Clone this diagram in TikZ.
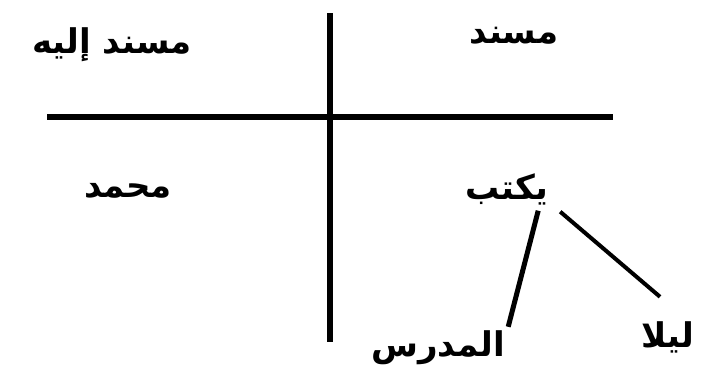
\documentclass[tikz,border=0pt]{standalone}
\usepackage{fontspec}
\usetikzlibrary{calc}
\newfontfamily\arabicfont[Script=Arabic]{DejaVu Sans}
\TeXXeTstate=1
\begin{document}
\begin{tikzpicture}[x=1pt,y=-1pt,
  lbl/.style={font=\arabicfont\bfseries\fontsize{34}{38}\selectfont, inner sep=0pt, text=black},
  axis/.style={line width=6pt, black},
  link/.style={line width=4pt, black}]
\useasboundingbox (0,0) rectangle (706,367);
% frame lines
\coordinate (vtop) at (330,13);
\coordinate (vbot) at (330,342);
\coordinate (hl) at (47,117);
\coordinate (hr) at (613,117);
\draw[axis] (vtop) -- (vbot);
\draw[axis] (hl) -- (hr);
% labels
\node[lbl, minimum width=130, minimum height=35] (mi) at (112,45) {\beginR مسند إليه\endR};
\node[lbl, minimum width=88, minimum height=29] (ms) at (514,36) {\beginR مسند\endR};
\node[lbl, minimum width=97, minimum height=25] (mh) at (128,191) {\beginR محمد\endR};
\node[lbl, minimum width=100, minimum height=49] (yk) at (507,189) {\beginR يكتب\endR};
\node[lbl, minimum width=150, minimum height=38] (md) at (438,348) {\beginR المدرس\endR};
\node[lbl, minimum width=80, minimum height=48, anchor=west] (ll) at (628,337) {\beginR ليلا\endR};
% connectors
\draw[link, line width=5pt] ($(yk.south east)+(-19,-3)$) -- ($(md.north east)+(-5,-2)$);
\draw[link, line width=4pt] ($(yk.south east)+(3,-2)$) -- ($(ll.north west)+(32,-16)$);
\end{tikzpicture}
\end{document}
